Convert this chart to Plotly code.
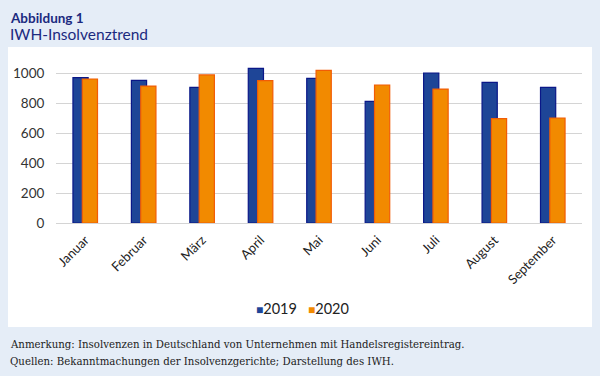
import plotly.graph_objects as go

months = ["Januar", "Februar", "März", "April", "Mai", "Juni", "Juli", "August", "September"]
series_names = ["2019", "2020"]
y2019 = [969, 951, 904, 1031, 964, 811, 1000, 938, 904]
y2020 = [960, 913, 987, 949, 1018, 920, 893, 696, 700]
yticks = [0, 200, 400, 600, 800, 1000]

L, R, T, B = 56, 18, 58, 153
W, H = 600, 376
pw, ph = W - L - R, H - T - B

def px(x):
    return (x - L) / pw

def py(y):
    return (H - B - y) / ph

navy = "#1b2a7f"
c2019, c2020 = "#1e4597", "#f28a00"

fig = go.Figure()
fig.add_trace(go.Bar(
    x=months, y=y2019, name=series_names[0],
    width=0.26, offset=-0.21,
    marker=dict(color=c2019, line=dict(color="#0a1788", width=1.2)),
))
fig.add_trace(go.Bar(
    x=months, y=y2020, name=series_names[1],
    width=0.26, offset=-0.05,
    marker=dict(color=c2020, line=dict(color="#f25c05", width=1.2)),
))

fig.add_shape(type="rect", xref="paper", yref="paper",
              x0=px(8), x1=px(592), y0=py(327), y1=py(47),
              fillcolor="white", line=dict(width=0), layer="below")

fig.add_annotation(text="<b>Abbildung 1</b>", xref="paper", yref="paper",
                   x=px(8), y=py(18), xanchor="left", yanchor="middle",
                   showarrow=False, font=dict(family="Lato", size=13.5, color=navy))
fig.add_annotation(text="IWH-Insolvenztrend", xref="paper", yref="paper",
                   x=px(8), y=py(34), xanchor="left", yanchor="middle",
                   showarrow=False, font=dict(family="Lato", size=15.5, color=navy))
fig.add_annotation(text="Anmerkung: Insolvenzen in Deutschland von Unternehmen mit Handelsregistereintrag.",
                   xref="paper", yref="paper", x=px(8), y=py(344), xanchor="left", yanchor="middle",
                   showarrow=False, font=dict(family="DejaVu Serif", size=10.2, color="#222222"))
fig.add_annotation(text="Quellen: Bekanntmachungen der Insolvenzgerichte; Darstellung des IWH.",
                   xref="paper", yref="paper", x=px(8), y=py(361), xanchor="left", yanchor="middle",
                   showarrow=False, font=dict(family="DejaVu Serif", size=10.2, color="#222222"))

# legend (compact, as in the reference)
legend_text = (f"<span style='color:{c2019};font-size:12px'>■</span>{series_names[0]}"
               f"   <span style='color:{c2020};font-size:12px'>■</span>{series_names[1]}")
fig.add_annotation(text=legend_text, xref="paper", yref="paper",
                   x=px(302), y=py(308), xanchor="center", yanchor="middle",
                   showarrow=False, font=dict(family="Lato", size=14.5, color="#222222"))

fig.update_layout(
    width=W, height=H,
    margin=dict(l=L, r=R, t=T, b=B),
    paper_bgcolor="#e5edf7",
    plot_bgcolor="white",
    barmode="overlay",
    showlegend=False,
    font=dict(family="Lato", color="#333333"),
)
fig.update_xaxes(tickangle=-45, tickfont=dict(size=13, color="#222222"), showgrid=False,
                 showline=False, ticks="", ticklabelstandoff=6)
fig.update_yaxes(range=[0, 1100], tickvals=yticks, gridcolor="#d4d4d4", gridwidth=1.2,
                 zeroline=True, zerolinecolor="#d4d4d4", zerolinewidth=1.2,
                 tickfont=dict(size=13.5, color="#333333"), ticks="outside", ticklen=8,
                 tickcolor="rgba(0,0,0,0)")

fig.write_html("out.html", config={"displayModeBar": False},
               post_script="document.body.style.margin='0';")
